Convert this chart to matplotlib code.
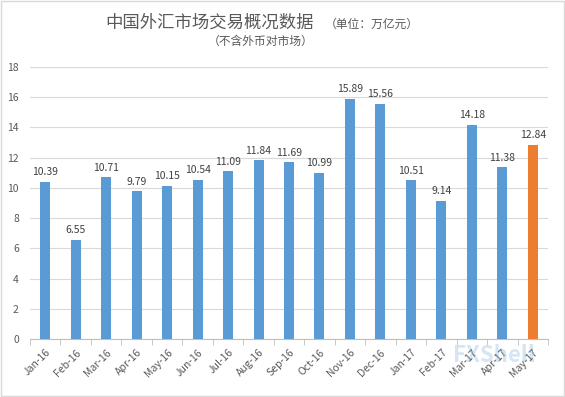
import matplotlib
matplotlib.use("Agg")
import matplotlib.pyplot as plt
import numpy as np

plt.rcParams['font.family'] = ['Noto Sans CJK SC', 'DejaVu Sans']

months = ["Jan-16", "Feb-16", "Mar-16", "Apr-16", "May-16", "Jun-16", "Jul-16", "Aug-16",
          "Sep-16", "Oct-16", "Nov-16", "Dec-16", "Jan-17", "Feb-17", "Mar-17", "Apr-17", "May-17"]
values = [10.39, 6.55, 10.71, 9.79, 10.15, 10.54, 11.09, 11.84, 11.69, 10.99,
          15.89, 15.56, 10.51, 9.14, 14.18, 11.38, 12.84]
yticks = [0, 2, 4, 6, 8, 10, 12, 14, 16, 18]

blue = "#5B9BD5"
orange = "#ED7D31"
colors = [blue] * (len(values) - 1) + [orange]

fig = plt.figure(figsize=(5.65, 3.97), dpi=100)
ax = fig.add_axes([30 / 565, 1 - 339 / 397, 518 / 565, 272 / 397])

x = np.arange(len(values))
ax.bar(x, values, width=0.33, color=colors, zorder=3)
for xi, v in zip(x, values):
    ax.text(xi, v + 0.3, f"{v:.2f}", ha="center", va="bottom", fontsize=7.5, color="#404040")

ax.set_xlim(-0.5, len(values) - 0.5)
ax.set_ylim(0, 18)
ax.set_yticks(yticks)
ax.set_yticklabels([str(t) for t in yticks], fontsize=7.5, color="#595959")
ax.yaxis.grid(True, color="#D9D9D9", linewidth=0.8, zorder=0)
ax.tick_params(axis="y", length=0, pad=8)

ax.set_xticks(x)
ax.set_xticklabels(months, rotation=45, ha="right", rotation_mode="anchor", fontsize=7.5, color="#595959")
ax.set_xticks(np.arange(-0.5, len(values), 1), minor=True)
ax.tick_params(axis="x", which="major", length=0, pad=6)
ax.tick_params(axis="x", which="minor", length=4, color="#BFBFBF")

for s in ["top", "right", "left"]:
    ax.spines[s].set_visible(False)
ax.spines["bottom"].set_color("#BFBFBF")

fig.text(105 / 565, 1 - 23 / 397, "中国外汇市场交易概况数据", fontsize=12.5, color="#595959", ha="left", va="center")
fig.text(325 / 565, 1 - 24 / 397, "（单位：万亿元）", fontsize=8.5, color="#595959", ha="left", va="center")
fig.text(261 / 565, 1 - 41 / 397, "（不含外币对市场）", fontsize=8.5, color="#595959", ha="center", va="center")

fig.text(0.875, 0.105, "FXShell", fontsize=16, fontweight="bold", fontstyle="italic",
         color="#5B9BD5", alpha=0.25, ha="center", va="center")

border = plt.Rectangle((0.002, 0.002), 0.996, 0.996, transform=fig.transFigure,
                       fill=False, edgecolor="#D9D9D9", linewidth=1)
fig.patches.append(border)

fig.savefig("out.png", dpi=100, facecolor="white")
